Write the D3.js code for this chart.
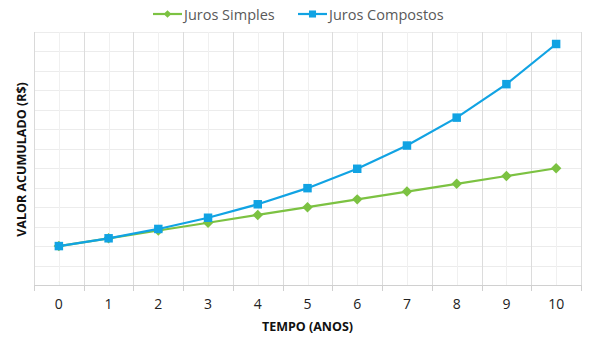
<!DOCTYPE html>
<html>
<head>
<meta charset="utf-8">
<script src="https://cdn.jsdelivr.net/npm/d3@7"></script>
<style>
  html, body { margin: 0; padding: 0; background: #fff; }
  svg { display: block; font-family: "Open Sans", "Noto Sans", sans-serif; }
</style>
</head>
<body>
<svg id="chart" width="591" height="337"></svg>
<script>
// Years on the horizontal axis
const years = ["0", "1", "2", "3", "4", "5", "6", "7", "8", "9", "10"];
// Accumulated value (R$) for simple interest
const simples = [1000, 1200, 1400, 1600, 1800, 2000, 2200, 2400, 2600, 2800, 3000];
// Accumulated value (R$) for compound interest
const compostos = [1000, 1200, 1440, 1728, 2074, 2488, 2986, 3583, 4300, 5160, 6192];
// Horizontal gridline values
const gridValues = [0, 500, 1000, 1500, 2000, 2500, 3000, 3500, 4000, 4500, 5000, 5500, 6000, 6500];

const seriesNames = ["Juros Simples", "Juros Compostos"];
const green = "#7cc242";
const blue = "#11a3e3";

const svg = d3.select("#chart");
const m = { left: 34, right: 10, top: 32, bottom: 52 };
const W = 591, H = 337;
const x0 = m.left, x1 = W - m.right, y0 = H - m.bottom, y1 = m.top;

const x = d3.scaleBand().domain(years).range([x0, x1]).paddingInner(0).paddingOuter(0);
const y = d3.scaleLinear().domain([0, 6500]).range([y0, y1]);
const cx = d => x(d) + x.bandwidth() / 2;

// Horizontal gridlines
svg.append("g").selectAll("line").data(gridValues.slice(1)).join("line")
  .attr("x1", x0).attr("x2", x1)
  .attr("y1", d => Math.round(y(d)) + 0.5).attr("y2", d => Math.round(y(d)) + 0.5)
  .attr("stroke", "#ececec").attr("stroke-width", 1);

// Minor vertical gridlines at category centres
svg.append("g").selectAll("line").data(years).join("line")
  .attr("x1", d => Math.round(cx(d)) + 0.5).attr("x2", d => Math.round(cx(d)) + 0.5)
  .attr("y1", y1).attr("y2", y0)
  .attr("stroke", "#f0f0f0").attr("stroke-width", 1);

// Major vertical gridlines at category boundaries
const bounds = years.map(d => x(d)).concat([x1]);
svg.append("g").selectAll("line").data(bounds.slice(1)).join("line")
  .attr("x1", d => Math.round(d) + 0.5).attr("x2", d => Math.round(d) + 0.5)
  .attr("y1", y1).attr("y2", y0)
  .attr("stroke", "#dcdcdc").attr("stroke-width", 1);

// Left axis line
svg.append("line")
  .attr("x1", x0 + 0.5).attr("x2", x0 + 0.5).attr("y1", y1).attr("y2", y0)
  .attr("stroke", "#d9d9d9");

// Bottom axis with ticks at category boundaries
const axisG = svg.append("g");
axisG.append("line")
  .attr("x1", x0).attr("x2", x1).attr("y1", y0 + 0.5).attr("y2", y0 + 0.5)
  .attr("stroke", "#d0d0d0");
axisG.selectAll("line.tick").data(bounds).join("line").attr("class", "tick")
  .attr("x1", d => Math.round(d) + 0.5).attr("x2", d => Math.round(d) + 0.5)
  .attr("y1", y0).attr("y2", y0 + 6)
  .attr("stroke", "#d0d0d0");
axisG.selectAll("text").data(years).join("text")
  .attr("x", d => cx(d)).attr("y", y0 + 24)
  .attr("text-anchor", "middle")
  .attr("font-size", 14).attr("fill", "#222")
  .text(d => d);

// Axis titles
svg.append("text")
  .attr("x", (x0 + x1) / 2).attr("y", 331)
  .attr("text-anchor", "middle").attr("font-size", 12.5).attr("font-weight", "bold")
  .attr("fill", "#111")
  .text("TEMPO (ANOS)");
svg.append("text")
  .attr("transform", `translate(26, ${(y0 + y1) / 2 + 1}) rotate(-90)`)
  .attr("text-anchor", "middle").attr("font-size", 12.5).attr("font-weight", "bold")
  .attr("fill", "#111")
  .text("VALOR ACUMULADO (R$)");

// Series lines and markers
const line = d3.line().x((d, i) => cx(years[i])).y(d => y(d));
const diamond = d3.symbol().type(d3.symbolDiamond2).size(60);
const square = d3.symbol().type(d3.symbolSquare2).size(80);

svg.append("path").datum(simples).attr("d", line)
  .attr("fill", "none").attr("stroke", green).attr("stroke-width", 2.2);
svg.append("g").selectAll("path").data(simples).join("path")
  .attr("transform", (d, i) => `translate(${cx(years[i])},${y(d)}) rotate(45)`)
  .attr("d", d3.symbol().type(d3.symbolSquare).size(55))
  .attr("fill", green);

svg.append("path").datum(compostos).attr("d", line)
  .attr("fill", "none").attr("stroke", blue).attr("stroke-width", 2.2);
svg.append("g").selectAll("path").data(compostos).join("path")
  .attr("transform", (d, i) => `translate(${cx(years[i])},${y(d)})`)
  .attr("d", d3.symbol().type(d3.symbolSquare).size(72))
  .attr("fill", blue);

// Legend
const legend = svg.append("g");
const legendItems = [
  { name: seriesNames[0], color: green, x: 153, shape: "diamond" },
  { name: seriesNames[1], color: blue, x: 298, shape: "square" }
];
legendItems.forEach(it => {
  const g = legend.append("g").attr("transform", `translate(${it.x},14)`);
  g.append("line").attr("x1", 0).attr("x2", 29).attr("y1", 0).attr("y2", 0)
    .attr("stroke", it.color).attr("stroke-width", 2.2);
  g.append("path")
    .attr("transform", it.shape === "diamond" ? "translate(14.5,0) rotate(45)" : "translate(14.5,0)")
    .attr("d", d3.symbol().type(d3.symbolSquare).size(it.shape === "diamond" ? 30 : 50))
    .attr("fill", it.color);
  g.append("text").attr("x", 31).attr("y", 5.5)
    .attr("font-size", 14.5).attr("fill", "#595959")
    .text(it.name);
});
</script>
</body>
</html>
